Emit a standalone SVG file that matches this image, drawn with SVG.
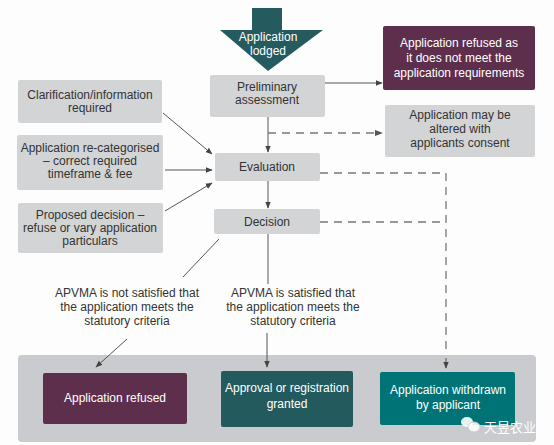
<svg xmlns="http://www.w3.org/2000/svg" width="554" height="445" viewBox="0 0 554 445">
<defs>
<style>
text{font-family:"Liberation Sans",Arial,"Noto Sans CJK SC",sans-serif;font-size:12px;text-anchor:middle}
.g{fill:#d2d4d6}
.dk{fill:#333}
.wt{fill:#fff}
.ln{stroke:#555;stroke-width:1;fill:none}
.ds{stroke:#777;stroke-width:1.3;fill:none;stroke-dasharray:8,6}
</style>
<marker id="ah" viewBox="0 0 10 10" refX="9" refY="5" markerWidth="7" markerHeight="7" orient="auto-start-reverse">
<path d="M0,1 L10,5 L0,9 z" fill="#444"/>
</marker>
</defs>
<rect width="554" height="445" fill="#fdfdfd"/>
<rect x="18" y="355" width="518" height="87" rx="4" fill="#c9cbce"/>

<g id="connectors">
<line class="ln" x1="325" y1="83" x2="382" y2="83" marker-end="url(#ah)"/>
<line class="ln" x1="268" y1="117" x2="268" y2="152" marker-end="url(#ah)"/>
<polyline class="ds" points="268,133 378,133"/>
<path d="M375,130 L383,133 L375,136 z" fill="#555"/>
<line class="ln" x1="163" y1="113" x2="212" y2="154" marker-end="url(#ah)"/>
<line class="ln" x1="165" y1="170" x2="212" y2="170" marker-end="url(#ah)"/>
<line class="ln" x1="165" y1="211" x2="212" y2="183" marker-end="url(#ah)"/>
<line class="ln" x1="268" y1="181" x2="268" y2="208" marker-end="url(#ah)"/>
<polyline class="ds" points="320,173 446,173 446,355"/>
<line class="ds" x1="320" y1="222" x2="446" y2="222"/>
<line class="ln" x1="446" y1="358" x2="446" y2="368" marker-end="url(#ah)"/>
<line class="ln" x1="268" y1="234" x2="268" y2="284"/>
<line class="ln" x1="219" y1="239" x2="183" y2="277"/>
<line class="ln" x1="127" y1="339" x2="96" y2="367" marker-end="url(#ah)"/>
<line class="ln" x1="267" y1="333" x2="267" y2="367" marker-end="url(#ah)"/>
</g>

<g id="lodged">
<path d="M252,8 H282 V30 H323 L268,71 L220,30 H252 Z" fill="#255a5f"/>
<text class="wt" x="268" y="41">Application</text>
<text class="wt" x="268" y="55">lodged</text>
</g>

<g id="preliminary">
<rect class="g" x="210" y="75" width="115" height="42" rx="2"/>
<text class="dk" x="267" y="91">Preliminary</text>
<text class="dk" x="267" y="104">assessment</text>
</g>

<g id="refused-req">
<rect x="383" y="26" width="152" height="64" rx="2" fill="#5e2f4d"/>
<text class="wt" x="459" y="47">Application refused as</text>
<text class="wt" x="459" y="62">it does not meet the</text>
<text class="wt" x="459" y="77">application requirements</text>
</g>

<g id="altered">
<rect class="g" x="385" y="105" width="150" height="52" rx="2"/>
<text class="dk" x="460" y="119">Application may be</text>
<text class="dk" x="460" y="133">altered with</text>
<text class="dk" x="460" y="147">applicants consent</text>
</g>

<g id="clarification">
<rect class="g" x="18" y="80" width="144" height="43" rx="2"/>
<text class="dk" x="90" y="99">Clarification/information</text>
<text class="dk" x="90" y="112">required</text>
</g>

<g id="recategorised">
<rect class="g" x="17" y="135" width="146" height="55" rx="2"/>
<text class="dk" x="90" y="152">Application re-categorised</text>
<text class="dk" x="90" y="165">– correct required</text>
<text class="dk" x="90" y="178">timeframe &amp; fee</text>
</g>

<g id="proposed">
<rect class="g" x="18" y="203" width="145" height="50" rx="2"/>
<text class="dk" x="90" y="219">Proposed decision –</text>
<text class="dk" x="90" y="232">refuse or vary application</text>
<text class="dk" x="90" y="245">particulars</text>
</g>

<g id="evaluation">
<rect class="g" x="215" y="153" width="105" height="28" rx="2"/>
<text class="dk" x="267" y="171">Evaluation</text>
</g>

<g id="decision">
<rect class="g" x="214" y="209" width="106" height="25" rx="2"/>
<text class="dk" x="267" y="226">Decision</text>
</g>

<g id="not-satisfied">
<text class="dk" x="127" y="297">APVMA is not satisfied that</text>
<text class="dk" x="127" y="311">the application meets the</text>
<text class="dk" x="127" y="325">statutory criteria</text>
</g>

<g id="satisfied">
<text class="dk" x="293" y="297">APVMA is satisfied that</text>
<text class="dk" x="293" y="311">the application meets the</text>
<text class="dk" x="293" y="325">statutory criteria</text>
</g>

<g id="refused">
<rect x="43" y="373" width="144" height="51" rx="2" fill="#5e2f4d"/>
<text class="wt" x="115" y="402">Application refused</text>
</g>

<g id="granted">
<rect x="221" y="371" width="132" height="56" rx="2" fill="#235a5e"/>
<text class="wt" x="287" y="392">Approval or registration</text>
<text class="wt" x="287" y="408">granted</text>
</g>

<g id="withdrawn">
<rect x="380" y="372" width="135" height="53" rx="2" fill="#007376"/>
<text class="wt" x="448" y="394">Application withdrawn</text>
<text class="wt" x="448" y="409">by applicant</text>
</g>

<g id="watermark">
<ellipse cx="467" cy="422" rx="6" ry="5" fill="#fff" opacity="0.9"/>
<ellipse cx="474" cy="427" rx="6" ry="5" fill="#fff" opacity="0.9" stroke="#c9cbce" stroke-width="1"/>
<text x="510" y="432" style="font-size:13px;fill:#fff;font-family:'Noto Sans CJK SC',sans-serif">天昱农业</text>
</g>
</svg>
